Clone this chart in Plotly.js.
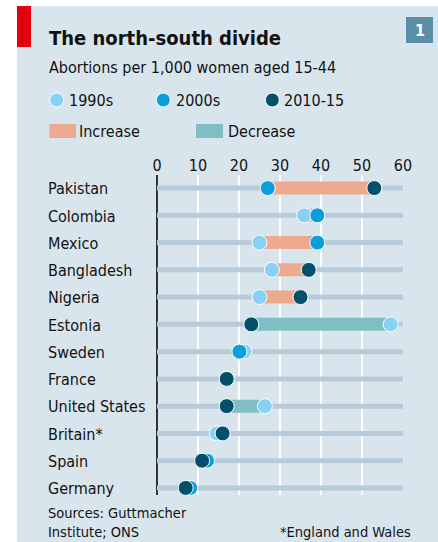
<!DOCTYPE html>
<html><head><meta charset="utf-8">
<script src="https://cdn.plot.ly/plotly-3.0.1.min.js"></script>
<style>html,body{margin:0;padding:0;background:#fff}</style>
</head><body><div id="chart" style="width:438px;height:542px"></div>
<script>
// ---- data ----
const countries = ["Pakistan","Colombia","Mexico","Bangladesh","Nigeria","Estonia","Sweden","France","United States","Britain*","Spain","Germany"];
const v1990 = [null, 35.9, 25.0, 28.0, 25.0, 57.0, 21.3, null, 26.3, 14.6, null, null];
const v2000 = [27.0, 39.1, 39.1, null, null, null, 20.1, 17.0, null, null, 12.2, 8.1];
const v2010 = [53.0, null, null, 37.0, 35.0, 23.0, null, 17.0, 17.0, 16.0, 11.0, 7.0];
const xTicks = [0, 10, 20, 30, 40, 50, 60];
const seriesNames = ["1990s", "2000s", "2010-15"];
const changeNames = ["Increase", "Decrease"];

// ---- styling ----
const FONT = "DejaVu Sans Condensed, Liberation Sans Narrow, sans-serif";
const TXT = "#121212";
const BG = "#d9e5ed";
const C1990 = "#87d1f5", C2000 = "#0a9fdc", C2010 = "#03506b";
const CINC = "#eeaa8f", CDEC = "#7fbfc3", CROW = "#b8cbd8";

const W = 438, H = 542, ML = 157, MR = 35, MT = 175, MB = 47;
const PW = W - ML - MR, PH = H - MT - MB;
const px = v => (v - ML) / PW;
const py = v => (H - MB - v) / PH;

const idx = countries.map((_, i) => i);

// row background lines
const rowX = [], rowY = [];
idx.forEach(i => { rowX.push(xTicks[0], xTicks[xTicks.length-1], null); rowY.push(i, i, null); });

// change bars
const incX = [], incY = [], decX = [], decY = [];
idx.forEach(i => {
  const vals = [v1990[i], v2000[i], v2010[i]].filter(v => v !== null);
  const a = vals[0], b = vals[vals.length - 1];
  if (b > a) { incX.push(a, b, null); incY.push(i, i, null); }
  else if (b < a) { decX.push(a, b, null); decY.push(i, i, null); }
});

const mk = (vals, color, name) => ({
  type: "scatter", mode: "markers", x: vals, y: idx, name: name,
  marker: {size: 15, color: color, line: {color: "#ffffff", width: 1}},
  cliponaxis: false, hoverinfo: "x+name"
});

const data = [
  {type: "scatter", mode: "lines", x: rowX, y: rowY, line: {color: CROW, width: 5}, hoverinfo: "skip", cliponaxis: false},
  {type: "scatter", mode: "lines", x: incX, y: incY, name: changeNames[0], line: {color: CINC, width: 13}, hoverinfo: "skip", cliponaxis: false},
  {type: "scatter", mode: "lines", x: decX, y: decY, name: changeNames[1], line: {color: CDEC, width: 13}, hoverinfo: "skip", cliponaxis: false},
  mk(v1990, C1990, seriesNames[0]),
  mk(v2000, C2000, seriesNames[1]),
  mk(v2010, C2010, seriesNames[2])
];

const shapes = [
  {type: "rect", xref: "paper", yref: "paper", x0: px(17), x1: px(438), y0: py(542), y1: py(6), fillcolor: BG, line: {width: 0}, layer: "below"},
  {type: "rect", xref: "paper", yref: "paper", x0: px(17), x1: px(31), y0: py(47), y1: py(6), fillcolor: "#e3000f", line: {width: 0}, layer: "below"},
  {type: "rect", xref: "paper", yref: "paper", x0: px(406), x1: px(433), y0: py(43), y1: py(17), fillcolor: "#5b8fa9", line: {width: 0}, layer: "below"},
];
const legCircles = [[56.7, C1990], [163.3, C2000], [272.3, C2010]];
legCircles.forEach(([cx, c]) => shapes.push({type: "circle", xref: "paper", yref: "paper",
  x0: px(cx - 7), x1: px(cx + 7), y0: py(107), y1: py(93), fillcolor: c, line: {color: "#fff", width: 1}}));
shapes.push({type: "rect", xref: "paper", yref: "paper", x0: px(49.3), x1: px(76), y0: py(138), y1: py(124), fillcolor: CINC, line: {width: 0}});
shapes.push({type: "rect", xref: "paper", yref: "paper", x0: px(196), x1: px(223), y0: py(138), y1: py(124), fillcolor: CDEC, line: {width: 0}});

const ann = (text, x, y, opts) => Object.assign({text: text, xref: "paper", yref: "paper", x: px(x), y: py(y),
  xanchor: "left", yanchor: "middle", showarrow: false, font: {family: FONT, size: 16, color: TXT}}, opts || {});

const annotations = [
  ann("<b>The north-south divide</b>", 47, 37.5, {font: {family: FONT, size: 20, color: TXT}}),
  ann("Abortions per 1,000 women aged 15-44", 47, 68),
  ann("<b>1</b>", 419.5, 30, {xanchor: "center", font: {family: FONT, size: 16, color: "#ffffff"}}),
  ann(seriesNames[0], 66.5, 100),
  ann(seriesNames[1], 173.5, 100),
  ann(seriesNames[2], 281.5, 100),
  ann(changeNames[0], 77, 131),
  ann(changeNames[1], 225.5, 131),
  ann("Sources: Guttmacher<br>Institute; ONS", 46, 541.5, {yanchor: "bottom", align: "left", font: {family: FONT, size: 14.5, color: TXT}}),
  ann("*England and Wales", 413, 531.5, {xanchor: "right", font: {family: FONT, size: 14.5, color: TXT}})
];
countries.forEach((c, i) => annotations.push({text: c, xref: "paper", yref: "y", x: px(46), y: i + 0.03,
  xanchor: "left", yanchor: "middle", showarrow: false, font: {family: FONT, size: 16, color: TXT}}));

const layout = {
  width: W, height: H, margin: {l: ML, r: MR, t: MT, b: MB},
  paper_bgcolor: "#ffffff", plot_bgcolor: "rgba(0,0,0,0)", showlegend: false,
  xaxis: {range: [0, 60], side: "top", tickvals: xTicks, ticktext: xTicks.map(String), showgrid: true,
    gridcolor: "#ffffff", gridwidth: 2, zeroline: true, zerolinecolor: "#333333", zerolinewidth: 2,
    showline: false, ticks: "", tickfont: {family: FONT, size: 16, color: TXT}, fixedrange: true},
  yaxis: {range: [11.26, -0.48], showgrid: false, zeroline: false, showticklabels: false, fixedrange: true},
  shapes: shapes, annotations: annotations
};
Plotly.newPlot("chart", data, layout, {displayModeBar: false, staticPlot: true});
</script></body></html>
